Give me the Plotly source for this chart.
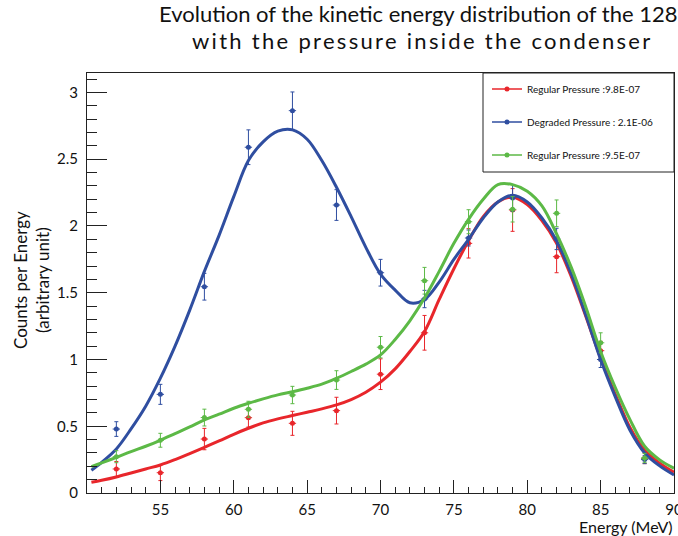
import plotly.graph_objects as go

# ---- measured data points (Energy in MeV) ----
energy = [52, 55, 58, 61, 64, 67, 70, 73, 76, 79, 82, 85, 88]

red_counts = [0.18, 0.152, 0.404, 0.564, 0.522, 0.617, 0.89, 1.2, 1.87, 2.12, 1.77, 1.066, 0.26]
red_err = [0.056, 0.059, 0.08, 0.07, 0.09, 0.1, 0.115, 0.13, 0.11, 0.16, 0.12, 0.07, 0.04]

blue_counts = [0.479, 0.739, 1.545, 2.59, 2.864, 2.157, 1.65, 1.453, 1.91, 2.21, 1.903, 1.0, 0.25]
blue_err = [0.055, 0.075, 0.1, 0.13, 0.14, 0.115, 0.1, 0.065, 0.06, 0.1, 0.08, 0.06, 0.03]

green_counts = [0.272, 0.395, 0.565, 0.627, 0.734, 0.846, 1.092, 1.59, 2.032, 2.125, 2.095, 1.125, 0.262]
green_err = [0.045, 0.052, 0.063, 0.06, 0.065, 0.07, 0.08, 0.1, 0.09, 0.095, 0.1, 0.075, 0.035]

energy_err = [0.25] * len(energy)

# ---- fitted curves ----
fit_energy = [50.3, 51, 52, 53, 54, 55, 56, 57, 58, 59, 60, 61, 62, 63, 64, 65, 66, 67, 68, 69,
              70, 71, 72, 73, 74, 75, 76, 77, 78, 79, 80, 81, 82, 83, 84, 85, 86, 87, 88, 89, 90]

red_fit = [0.08, 0.095, 0.12, 0.15, 0.18, 0.21, 0.25, 0.295, 0.342, 0.39,
           0.44, 0.485, 0.525, 0.555, 0.58, 0.605, 0.63, 0.66, 0.70, 0.755,
           0.83, 0.93, 1.06, 1.21, 1.45, 1.68, 1.89, 2.07, 2.18, 2.215,
           2.16, 2.04, 1.87, 1.62, 1.32, 1.01, 0.74, 0.49, 0.32, 0.225, 0.155]

blue_fit = [0.17, 0.23, 0.33, 0.48, 0.65, 0.86, 1.10, 1.37, 1.66, 1.93,
            2.22, 2.49, 2.63, 2.71, 2.72, 2.65, 2.49, 2.29, 2.07, 1.84,
            1.64, 1.52, 1.425, 1.45, 1.58, 1.75, 1.90, 2.06, 2.18, 2.23,
            2.18, 2.06, 1.89, 1.64, 1.33, 1.00, 0.72, 0.47, 0.30, 0.205, 0.135]

green_fit = [0.197, 0.225, 0.267, 0.31, 0.35, 0.395, 0.445, 0.495, 0.547, 0.59,
             0.635, 0.672, 0.705, 0.735, 0.759, 0.785, 0.815, 0.859, 0.91, 0.965,
             1.034, 1.15, 1.29, 1.46, 1.66, 1.87, 2.05, 2.20, 2.31, 2.31,
             2.26, 2.15, 1.94, 1.69, 1.39, 1.06, 0.79, 0.55, 0.35, 0.25, 0.185]

series_names = ["Regular Pressure :9.8E-07", "Degraded Pressure : 2.1E-06", "Regular Pressure :9.5E-07"]
colors = ["#e8262b", "#2f4ea0", "#5cb946"]

title_lines = ["Evolution of the kinetic energy distribution of the 128",
               "with the pressure inside the condenser"]

x_tickvals = [55, 60, 65, 70, 75, 80, 85, 90]
y_tickvals = [0, 0.5, 1, 1.5, 2, 2.5, 3]

FONT = "Lato"

# plot-area geometry in pixels (used only to place texts)
L, R, T, B = 87, 4, 73, 43
W, H = 678, 536
PW, PH = W - L - R, H - T - B


def px_x(x):
    return (x - L) / PW


def px_y(y):
    return (H - B - y) / PH


fig = go.Figure()

series = [
    (red_counts, red_err, red_fit),
    (blue_counts, blue_err, blue_fit),
    (green_counts, green_err, green_fit),
]

for (counts, err, fit), col in zip(series, colors):
    fig.add_trace(go.Scatter(
        x=energy, y=counts, mode="markers", showlegend=False,
        marker=dict(color=col, size=5),
        error_y=dict(type="data", array=err, color=col, thickness=1, width=2),
        error_x=dict(type="data", array=energy_err, color=col, thickness=1, width=0),
    ))
    fig.add_trace(go.Scatter(
        x=fit_energy, y=fit, mode="lines", showlegend=False,
        line=dict(color=col, width=3, shape="spline", smoothing=1),
    ))

for i, (name, col) in enumerate(zip(series_names, colors)):
    fig.add_trace(go.Scatter(
        x=[None], y=[None], mode="lines+markers", name=name,
        legendgroup="g%d" % i,
        line=dict(color=col, width=1.5), marker=dict(color=col, size=5),
    ))

axis_common = dict(
    showline=True, linecolor="#222", linewidth=1, mirror=True,
    showgrid=False, zeroline=False, ticks="inside", tickcolor="#222",
    tickfont=dict(family=FONT, size=15, color="#111"),
    ticklabeloverflow="allow", automargin=False,
)

fig.update_layout(
    width=W, height=H,
    margin=dict(l=L, r=R, t=T, b=B, autoexpand=False),
    paper_bgcolor="white", plot_bgcolor="white",
    font=dict(family=FONT, color="#111"),
    xaxis=dict(range=[50, 90], tickvals=x_tickvals, ticklen=13, ticklabelstandoff=3,
               minor=dict(dtick=1, tick0=50, ticks="inside", ticklen=6, tickcolor="#222"),
               **axis_common),
    yaxis=dict(range=[0, 3.146], tickvals=y_tickvals, ticklen=20, ticklabelstandoff=5,
               minor=dict(dtick=0.1, tick0=0, ticks="inside", ticklen=10, tickcolor="#222"),
               **axis_common),
    legend=dict(
        x=px_x(487), y=px_y(74.5), xanchor="left", yanchor="top",
        bgcolor="rgba(0,0,0,0)", borderwidth=0, tracegroupgap=14,
        font=dict(family=FONT, size=10, color="#111"),
        itemwidth=30,
    ),
    shapes=[dict(type="rect", xref="paper", yref="paper",
                 x0=px_x(483), x1=1.0, y0=px_y(172), y1=1.0,
                 line=dict(color="#222", width=1), fillcolor="rgba(0,0,0,0)")],
    annotations=[
        dict(text=title_lines[0], xref="paper", yref="paper",
             x=px_x(157), y=px_y(13.5), xanchor="left", yanchor="middle", showarrow=False,
             font=dict(family=FONT, size=22, color="#111")),
        dict(text='<span style="letter-spacing:2.3px">' + title_lines[1] + '</span>',
             xref="paper", yref="paper",
             x=px_x(190), y=px_y(40.5), xanchor="left", yanchor="middle", showarrow=False,
             font=dict(family=FONT, size=22, color="#111")),
        dict(text="Counts per Energy<br>(arbitrary unit)", textangle=-90,
             xref="paper", yref="paper", x=px_x(31), y=px_y(280),
             xanchor="center", yanchor="middle", showarrow=False,
             font=dict(family=FONT, size=17, color="#111")),
        dict(text="Energy (MeV)", xref="paper", yref="paper",
             x=px_x(675), y=px_y(526),
             xanchor="right", yanchor="middle", showarrow=False,
             font=dict(family=FONT, size=16, color="#111")),
    ],
)

fig.write_html("out.html",
               config={"displayModeBar": False},
               post_script="document.body.style.margin='0';document.body.style.overflow='hidden';")
